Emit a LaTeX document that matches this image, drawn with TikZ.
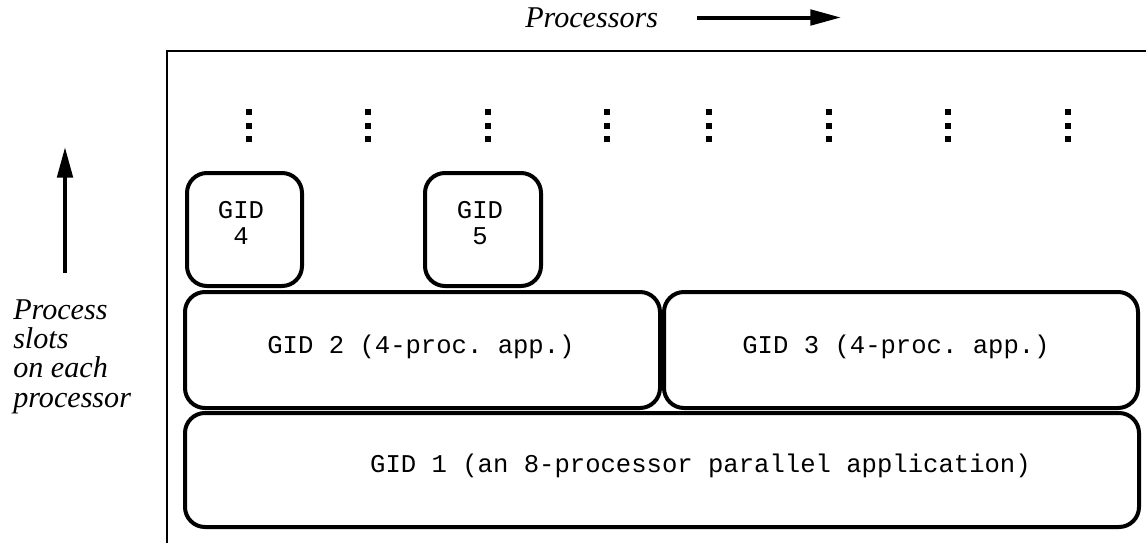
\documentclass[tikz,border=0pt]{standalone}
\usepackage{fontspec}
\setmainfont{Liberation Serif}
\setmonofont{Liberation Mono}
\usetikzlibrary{arrows.meta}
\begin{document}
\begin{tikzpicture}[x=0.75pt,y=-0.75pt,
  gidbox/.style={draw=black, line width=3pt, rounded corners=15pt, inner sep=0pt},
  gidtext/.style={inner sep=0pt, font=\ttfamily\fontsize{19.2pt}{19.5pt}\selectfont},
  itext/.style={inner sep=0pt, anchor=base west, font=\itshape\fontsize{22.6pt}{22.6pt}\selectfont},
  frame/.style={draw=black, line width=1.5pt},
  bigarrow/.style={line width=3pt, -{Triangle[length=23pt,width=11.5pt]}},
  dotmark/.style={fill=black}]
\useasboundingbox (0,0) rectangle (1146,543);
% frame
\draw[frame] (1146,51) -- (167,51) -- (167,543);
% axis labels
\node[itext] (proc) at (525,27.3) {Processors};
\coordinate (pa1) at (697,17.5);
\coordinate (pa2) at (841,17.5);
\draw[bigarrow] (pa1) -- (pa2);
\coordinate (sa1) at (65,273);
\coordinate (sa2) at (65,147);
\draw[bigarrow] (sa1) -- (sa2);
\node[itext] (l1) at (13,319) {Process};
\node[itext] (l2) at (13,348.3) {slots};
\node[itext] (l3) at (13,377.6) {on each};
\node[itext] (l4) at (13,407) {processor};
% vertical dots
\foreach \x in {249,368,488,607,709,829,948,1068}{
  \foreach \y in {112,125.5,139}{
    \fill[dotmark] (\x-3,\y-3) rectangle (\x+3,\y+3);
  }
}
% boxes
\node[gidbox, minimum width=86.25pt, minimum height=84.75pt] (g4) at (244.5,229.5) {};
\node[gidtext, align=center] (t4) at (241,222.7) {GID\\4};
\node[gidbox, minimum width=87pt, minimum height=84.75pt] (g5) at (483,229.5) {};
\node[gidtext, align=center] (t5) at (480,222.7) {GID\\5};
\node[gidbox, minimum width=356.25pt, minimum height=87pt] (g2) at (422.5,350) {};
\node[gidtext, anchor=base] (t2) at (421,353.3) {GID 2 (4-proc. app.)};
\node[gidbox, minimum width=355.5pt, minimum height=87pt] (g3) at (901,350) {};
\node[gidtext, anchor=base] (t3) at (896,353.3) {GID 3 (4-proc. app.)};
\node[gidbox, minimum width=715.5pt, minimum height=85.5pt] (g1) at (662,470) {};
\node[gidtext, anchor=base] (t1) at (700.5,472.7) {GID 1 (an 8-processor parallel application)};
\end{tikzpicture}
\end{document}
